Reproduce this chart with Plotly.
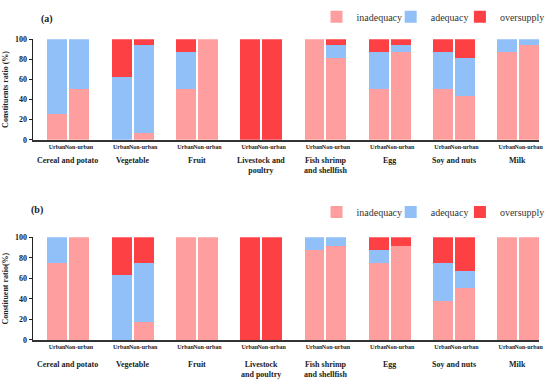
import plotly.graph_objects as go

categories_a = ["Cereal and potato", "Vegetable", "Fruit", "Livestock and<br>poultry",
                "Fish shrimp<br>and shellfish", "Egg", "Soy and nuts", "Milk"]
categories_b = ["Cereal and potato", "Vegetable", "Fruit", "Livestock<br>and poultry",
                "Fish shrimp<br>and shellfish", "Egg", "Soy and nuts", "Milk"]
groups = ["Urban", "Non-urban"]
statuses = ["inadequacy", "adequacy", "oversupply"]
colors = {"inadequacy": "#FF9E9E", "adequacy": "#91BFF8", "oversupply": "#FC4044"}

# Panel (a)
urban_inad_a = [25, 0, 50, 0, 100, 50, 50, 87.5]
urban_adeq_a = [75, 62.5, 37.5, 0, 0, 37.5, 37.5, 12.5]
urban_over_a = [0, 37.5, 12.5, 100, 0, 12.5, 12.5, 0]
nonurban_inad_a = [50, 6.25, 100, 0, 81.25, 87.5, 43.75, 93.75]
nonurban_adeq_a = [50, 87.5, 0, 0, 12.5, 6.25, 37.5, 6.25]
nonurban_over_a = [0, 6.25, 0, 100, 6.25, 6.25, 18.75, 0]

# Panel (b)
urban_inad_b = [75, 0, 100, 0, 87.5, 75, 37.5, 100]
urban_adeq_b = [25, 62.5, 0, 0, 12.5, 12.5, 37.5, 0]
urban_over_b = [0, 37.5, 0, 100, 0, 12.5, 25, 0]
nonurban_inad_b = [100, 16.67, 100, 0, 91.67, 91.67, 50, 100]
nonurban_adeq_b = [0, 58.33, 0, 0, 8.33, 0, 16.67, 0]
nonurban_over_b = [0, 25, 0, 100, 0, 8.33, 33.33, 0]

yticks = [0, 20, 40, 60, 80, 100]

FONT = "Liberation Serif"
W, H = 550, 382
offset = 0.17
barw = 0.31
n = len(categories_a)
urban_x = [i - offset for i in range(n)]
nonurban_x = [i + offset for i in range(n)]
all_x = urban_x + nonurban_x

# legend text start positions (px) for each status, and legend centre y per panel
legend_text_px = {"inadequacy": 358, "adequacy": 433, "oversupply": 503}
legend_y_px = {"a": 13, "b": 213}

panels = [
    ("a", {"inadequacy": (urban_inad_a, nonurban_inad_a),
           "adequacy": (urban_adeq_a, nonurban_adeq_a),
           "oversupply": (urban_over_a, nonurban_over_a)}, "x", "y"),
    ("b", {"inadequacy": (urban_inad_b, nonurban_inad_b),
           "adequacy": (urban_adeq_b, nonurban_adeq_b),
           "oversupply": (urban_over_b, nonurban_over_b)}, "x2", "y2"),
]

fig = go.Figure()
legends = {}
k = 0
for name, data, xa, ya in panels:
    for s in statuses:
        k += 1
        lg = "legend" if k == 1 else "legend%d" % k
        u, nu = data[s]
        fig.add_trace(go.Bar(
            x=all_x, y=list(u) + list(nu), width=barw, name=s,
            marker=dict(color=colors[s], line=dict(width=0)),
            xaxis=xa, yaxis=ya, legend=lg, showlegend=True,
        ))
        legends[lg] = dict(
            orientation="h", x=(legend_text_px[s] - 38) / W, xanchor="left",
            y=1 - legend_y_px[name] / H, yanchor="middle",
            font=dict(family=FONT, size=10, color="#333"),
            itemwidth=30, bgcolor="rgba(0,0,0,0)", borderwidth=0,
        )

tick_font = dict(family=FONT, size=6, color="#222")
xcommon = dict(range=[-0.55, 7.33], tickvals=all_x,
               ticktext=["<b>%s</b>" % groups[0]] * n + ["<b>%s</b>" % groups[1]] * n,
               tickfont=tick_font, ticks="", showgrid=False, zeroline=False,
               showline=True, linecolor="#333", linewidth=1.6, tickangle=0,
               domain=[33 / W, 545 / W])
ycommon = dict(range=[0, 100], tickvals=yticks,
               ticktext=["<b>%d</b>" % v for v in yticks],
               showgrid=False, zeroline=False,
               showline=True, linecolor="#222", linewidth=1, ticks="outside",
               ticklen=3, tickcolor="#222",
               tickfont=dict(family=FONT, size=8, color="#222"))

fig.update_layout(
    width=W, height=H, margin=dict(l=0, r=0, t=0, b=0),
    paper_bgcolor="white", plot_bgcolor="white", barmode="stack",
    bargap=0,
    font=dict(family=FONT, color="#222"),
    xaxis=dict(**xcommon, anchor="y"),
    yaxis=dict(**ycommon, anchor="x", domain=[1 - 139 / H, 1 - 36 / H],
               title=dict(text="<b>Constituents ratio (%)</b>",
                          font=dict(family=FONT, size=8), standoff=5)),
    xaxis2=dict(**xcommon, anchor="y2"),
    yaxis2=dict(**ycommon, anchor="x2", domain=[1 - 344 / H, 1 - 239 / H],
                title=dict(text="<b>Constituent ratio(%)</b>",
                           font=dict(family=FONT, size=8), standoff=5)),
    **legends,
)

ann = []
for i, c in enumerate(categories_a):
    ann.append(dict(x=i, y=1 - 154 / H, xref="x", yref="paper", text="<b>" + c + "</b>",
                    showarrow=False, yanchor="top", font=dict(family=FONT, size=8, color="#222")))
for i, c in enumerate(categories_b):
    ann.append(dict(x=i, y=1 - 363 / H, xref="x2", yref="paper", text="<b>" + c + "</b>",
                    showarrow=False, yanchor="top", font=dict(family=FONT, size=8, color="#222")))
ann.append(dict(x=39 / W, y=1 - 15 / H, xref="paper", yref="paper", text="<b>(a)</b>",
                showarrow=False, xanchor="left", yanchor="middle",
                font=dict(family=FONT, size=10, color="#222")))
ann.append(dict(x=29 / W, y=1 - 211 / H, xref="paper", yref="paper", text="<b>(b)</b>",
                showarrow=False, xanchor="left", yanchor="middle",
                font=dict(family=FONT, size=10, color="#222")))
fig.update_layout(annotations=ann)

fig.write_html("out.html", config={"displayModeBar": False},
               post_script="document.body.style.margin='0';document.body.style.overflow='hidden';")
